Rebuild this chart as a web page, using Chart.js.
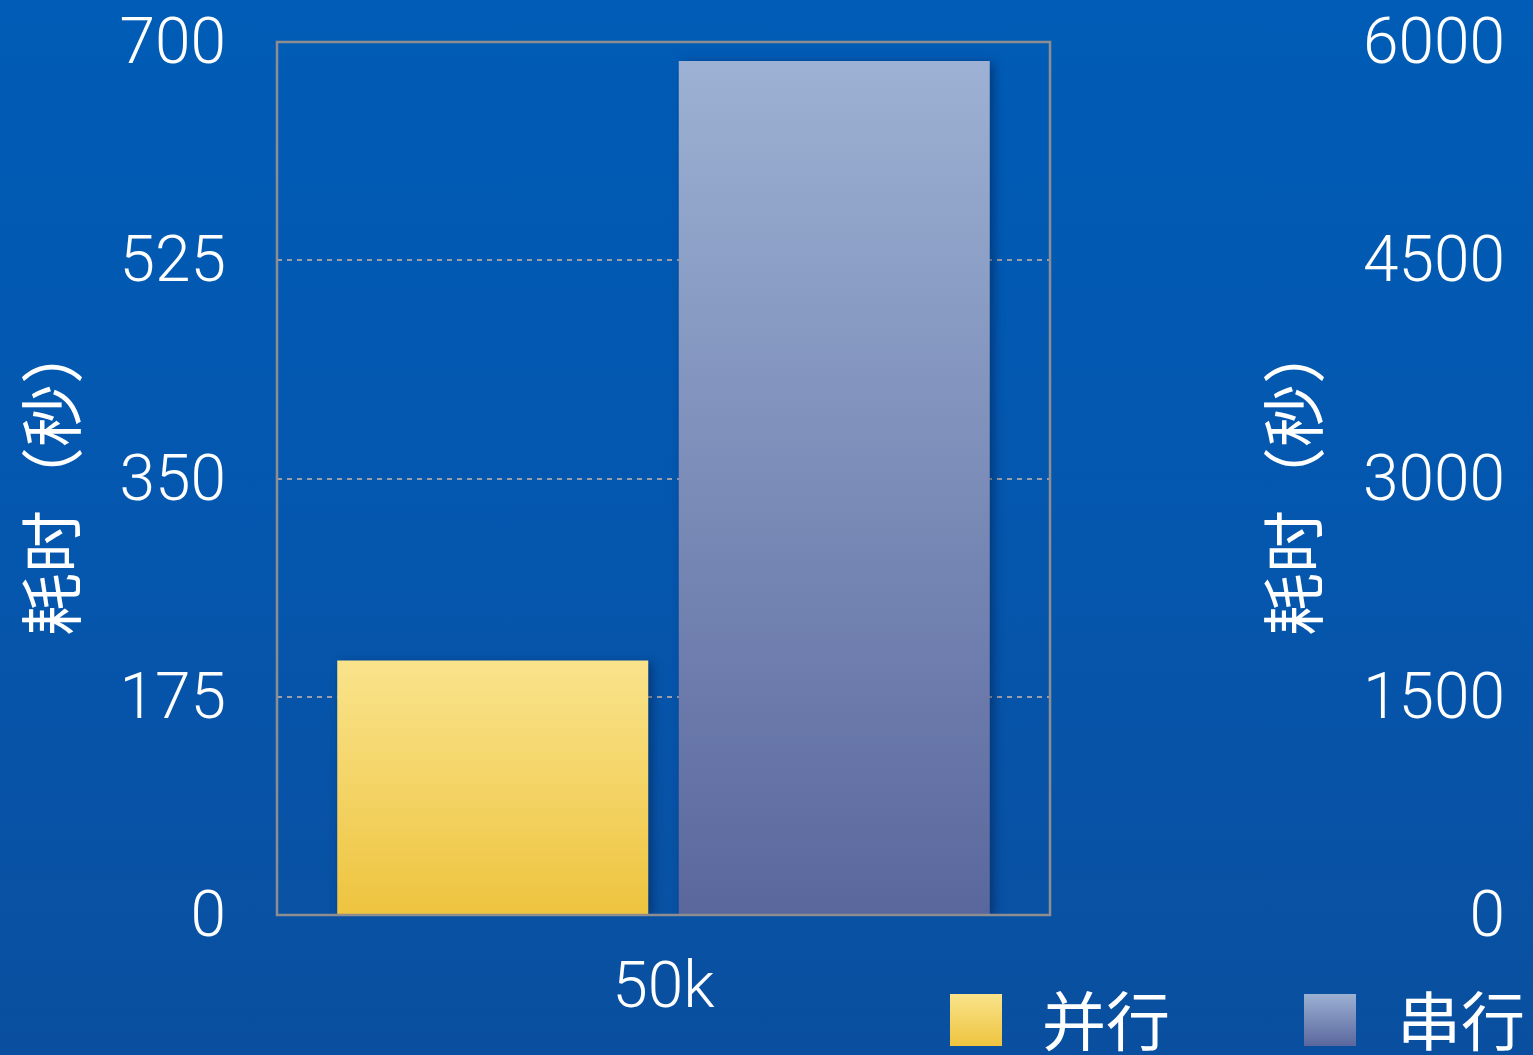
<!DOCTYPE html>
<html><head><meta charset="utf-8">
<script src="https://cdn.jsdelivr.net/npm/chart.js@4.4.0/dist/chart.umd.min.js"></script>
<style>
html,body{margin:0;padding:0;width:1533px;height:1055px;overflow:hidden;
background:linear-gradient(to bottom,#005cb6 0%,#0556ad 55%,#0a4f9f 100%);}
canvas{display:block}
</style></head><body>
<canvas id="c" width="1533" height="1055"></canvas>
<script>
const categories = ['50k'];
const seriesNames = ['并行', '串行'];
const parallelValues = [204];
const serialValues = [5870];
const leftTicks = [0, 175, 350, 525, 700];
const rightTicks = [0, 1500, 3000, 4500, 6000];
const axisTitle = '耗时（秒）';

const YELLOW_TOP = '#f9e38b', YELLOW_BOT = '#eec43f';
const BLUE_TOP = '#9cb1d3', BLUE_BOT = '#5a679d';
const CJK = '"Noto Sans CJK SC", "Noto Sans", sans-serif';
const NUM = 'Roboto, "Open Sans", sans-serif';

function barGrad(ctx, top, bot, axisId) {
  const chart = ctx.chart, area = chart.chartArea;
  if (!area || ctx.raw === undefined) return top;
  const y0 = chart.scales[axisId].getPixelForValue(ctx.raw);
  const g = chart.ctx.createLinearGradient(0, y0, 0, area.bottom);
  g.addColorStop(0, top); g.addColorStop(1, bot);
  return g;
}

const decor = {
  id: 'decor',
  beforeDatasetsDraw(chart) {
    const c = chart.ctx;
    c.save();
    c.shadowColor = 'rgba(0,20,60,0.45)';
    c.shadowBlur = 10; c.shadowOffsetX = 4; c.shadowOffsetY = 2;
  },
  afterDatasetsDraw(chart) {
    const c = chart.ctx, a = chart.chartArea;
    c.restore();
    c.save();
    c.strokeStyle = '#8e8e90'; c.lineWidth = 2.5;
    c.strokeRect(a.left, a.top, a.right - a.left, a.bottom - a.top);
    c.restore();
  },
  afterDraw(chart) {
    const c = chart.ctx, a = chart.chartArea;
    // right axis title (reads bottom to top like the left one)
    c.save();
    c.translate(1293, (a.top + a.bottom) / 2);
    c.rotate(-Math.PI / 2);
    c.font = '400 63px ' + CJK;
    c.fillStyle = '#ffffff';
    c.textAlign = 'center'; c.textBaseline = 'middle';
    c.fillText(axisTitle, 0, 0);
    c.restore();
    // legend
    const items = [
      {x: 950, tx: 1045, top: YELLOW_TOP, bot: YELLOW_BOT},
      {x: 1304, tx: 1400, top: BLUE_TOP, bot: BLUE_BOT}
    ];
    chart.data.datasets.forEach((ds, i) => {
      const it = items[i];
      const g = c.createLinearGradient(0, 994, 0, 1046);
      g.addColorStop(0, it.top); g.addColorStop(1, it.bot);
      c.save();
      c.fillStyle = g;
      c.fillRect(it.x, 994, 52, 52);
      c.font = '400 64px ' + CJK;
      c.fillStyle = '#ffffff';
      c.textAlign = 'left'; c.textBaseline = 'middle';
      c.fillText(ds.label, it.tx - 3, 1021);
      c.restore();
    });
  }
};

new Chart(document.getElementById('c'), {
  type: 'bar',
  data: {
    labels: categories,
    datasets: [
      {label: seriesNames[0], data: parallelValues, yAxisID: 'y',
       backgroundColor: ctx => barGrad(ctx, YELLOW_TOP, YELLOW_BOT, 'y'),
       categoryPercentage: 0.8836, barPercentage: 0.9107, borderWidth: 0},
      {label: seriesNames[1], data: serialValues, yAxisID: 'y1',
       backgroundColor: ctx => barGrad(ctx, BLUE_TOP, BLUE_BOT, 'y1'),
       categoryPercentage: 0.8836, barPercentage: 0.9107, borderWidth: 0}
    ]
  },
  options: {
    responsive: false,
    animation: false,
    devicePixelRatio: 1,
    layout: {padding: {top: 42, bottom: 0, left: 0, right: 28}},
    plugins: {legend: {display: false}, tooltip: {enabled: false}},
    scales: {
      x: {
        grid: {display: false, drawTicks: false},
        border: {display: false},
        ticks: {color: '#ffffff', padding: 38, font: {family: NUM, size: 64, weight: 300}},
        afterFit: s => { s.height = 140; }
      },
      y: {
        position: 'left',
        min: 0, max: 700,
        afterBuildTicks: s => { s.ticks = leftTicks.map(v => ({value: v})); },
        grid: {
          drawTicks: true, tickLength: 51, tickColor: 'rgba(0,0,0,0)', lineWidth: 2,
          color: c => (c.tick && (c.tick.value === 0 || c.tick.value === 700)) ? 'rgba(0,0,0,0)' : '#9a9ea8'
        },
        border: {display: false, dash: [5, 5]},
        ticks: {color: '#ffffff', padding: 0, labelOffset: 5, callback: v => String(v),
                font: {family: NUM, size: 64, weight: 300}},
        title: {display: true, text: axisTitle, color: '#ffffff', padding: {top: 13, bottom: 0},
                font: {family: CJK, size: 63, weight: 400}},
        afterFit: s => { s.width = 277; }
      },
      y1: {
        position: 'right',
        min: 0, max: 6000,
        afterBuildTicks: s => { s.ticks = rightTicks.map(v => ({value: v})); },
        grid: {drawOnChartArea: false, drawTicks: true, tickLength: 290, tickColor: 'rgba(0,0,0,0)'},
        border: {display: false},
        ticks: {color: '#ffffff', padding: 0, labelOffset: 5, crossAlign: 'far', callback: v => String(v),
                font: {family: NUM, size: 64, weight: 300}},
        afterFit: s => { s.width = 455; }
      }
    }
  },
  plugins: [decor]
});
</script>
</body></html>
